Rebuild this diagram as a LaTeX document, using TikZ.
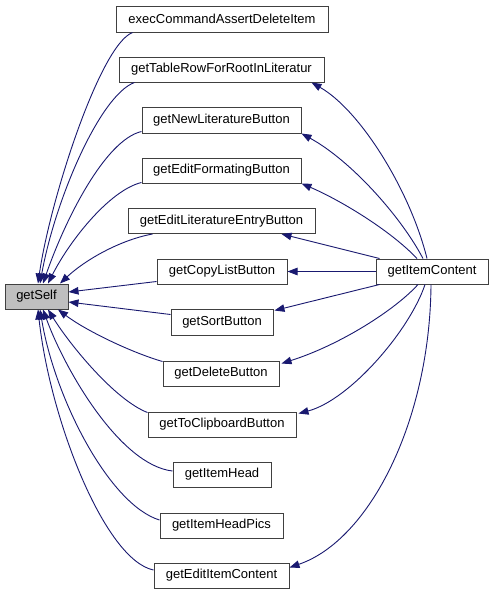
\documentclass[tikz,border=0pt]{standalone}
\usepackage{fontspec}
\setmainfont{Liberation Sans}
\usetikzlibrary{arrows.meta}
\definecolor{edgecol}{HTML}{191970}
\definecolor{boxcol}{HTML}{404040}
\definecolor{selfcol}{HTML}{BFBFBF}
\begin{document}
\begin{tikzpicture}[x=1pt,y=-1pt,
  fn/.style={draw=boxcol,line width=1pt,fill=white,inner sep=0pt,minimum height=25pt,font=\fontsize{13}{15}\selectfont},
  edge/.style={draw=edgecol,line width=0.9pt,-{Triangle[length=10pt,width=7.5pt]},shorten >=0pt}]
\fill[white] (0,0) rectangle (493,595);
\useasboundingbox (0,0) rectangle (493,595);
% nodes
\node[fn,fill=selfcol,minimum width=63pt] (gs) at (36.5,296.5) {getSelf};
\node[fn,minimum width=212pt,minimum height=26pt] (ex) at (222,19) {execCommandAssertDeleteItem};
\node[fn,minimum width=205pt] (tr) at (221.5,69.5) {getTableRowForRootInLiteratur};
\node[fn,minimum width=159pt,minimum height=26pt] (nl) at (221.5,120) {getNewLiteratureButton};
\node[fn,minimum width=159pt] (ef) at (221.5,170.5) {getEditFormatingButton};
\node[fn,minimum width=187pt] (ele) at (221.5,221) {getEditLiteratureEntryButton};
\node[fn,minimum width=130pt] (cl) at (222,271.5) {getCopyListButton};
\node[fn,minimum width=102pt,minimum height=26pt] (sb) at (222,322) {getSortButton};
\node[fn,minimum width=116pt] (db) at (221,373.5) {getDeleteButton};
\node[fn,minimum width=148pt] (tc) at (222,424.5) {getToClipboardButton};
\node[fn,minimum width=98pt] (ih) at (222,474.5) {getItemHead};
\node[fn,minimum width=123pt] (ihp) at (221.5,525.5) {getItemHeadPics};
\node[fn,minimum width=135pt] (eic) at (221.5,575.5) {getEditItemContent};
\node[fn,minimum width=112pt] (gic) at (432,271.5) {getItemContent};
% edges to getSelf
\draw[edge] ([xshift=17pt]ex.south west) .. controls (100,45) and (50,200) .. ([xshift=1.5pt]gs.north);
\draw[edge] ([xshift=16pt]tr.south west) .. controls (100,95) and (55,200) .. ([xshift=3.5pt]gs.north);
\draw[edge] ([yshift=2pt]nl.south west) .. controls (105,140) and (65,220) .. ([xshift=6.5pt]gs.north);
\draw[edge] ([yshift=1pt]ef.south west) .. controls (110,190) and (70,240) .. ([xshift=11.5pt]gs.north);
\draw[edge] ([xshift=25pt]ele.south west) .. controls (120,240) and (85,260) .. ([xshift=23.5pt]gs.north);
\draw[edge] ([yshift=3pt]cl.south west) -- ([yshift=4.5pt]gs.east);
\draw[edge] ([yshift=-6pt]sb.north west) -- ([yshift=-5.5pt]gs.east);
\draw[edge] ([yshift=-1pt]db.north west) .. controls (130,352) and (85,330) .. ([xshift=21.5pt]gs.south);
\draw[edge] ([yshift=-1pt]tc.north west) .. controls (115,400) and (70,345) .. ([xshift=11.5pt]gs.south);
\draw[edge] ([yshift=3.5pt]ih.west) .. controls (120,465) and (65,370) .. ([xshift=6.5pt]gs.south);
\draw[edge] ([yshift=5.5pt]ihp.west) .. controls (110,505) and (55,400) .. ([xshift=3.5pt]gs.south);
\draw[edge] ([yshift=5.5pt]eic.west) .. controls (105,560) and (50,420) .. ([xshift=1.5pt]gs.south);
% edges from getItemContent
\draw[edge] ([xshift=-5pt]gic.north) .. controls (410,190) and (360,110) .. ([xshift=-13pt]tr.south east);
\draw[edge] ([xshift=-9pt]gic.north) .. controls (400,215) and (350,160) .. (nl.south east);
\draw[edge] ([xshift=-15pt]gic.north) .. controls (390,230) and (340,200) .. (ef.south east);
\draw[edge] ([xshift=4pt]gic.north west) -- ([xshift=-34pt]ele.south east);
\draw[edge] (gic.west) -- (cl.east);
\draw[edge] ([xshift=4pt]gic.south west) -- ([xshift=1pt,yshift=-2pt]sb.north east);
\draw[edge] ([xshift=-14pt]gic.south) .. controls (395,310) and (340,345) .. ([xshift=2pt,yshift=-3pt]db.north east);
\draw[edge] ([xshift=-7pt]gic.south) .. controls (410,330) and (350,400) .. ([xshift=2pt,yshift=-2pt]tc.north east);
\draw[edge] ([xshift=-1pt]gic.south) .. controls (430,420) and (370,540) .. ([yshift=-5pt]eic.north east);
\end{tikzpicture}
\end{document}
